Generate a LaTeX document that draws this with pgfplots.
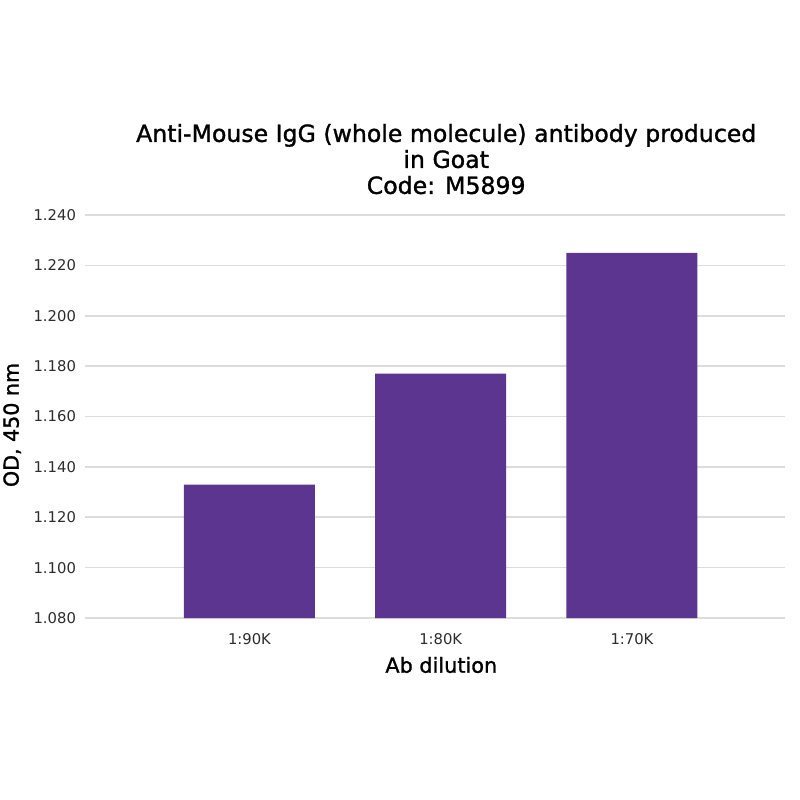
\documentclass[border=0pt]{standalone}
\usepackage{pgfplots}
\pgfplotsset{compat=1.18}
\usepackage{fontspec}
\setmainfont{DejaVu Sans}
\newfontfamily\semibold[FakeBold=1.3]{DejaVu Sans}
\definecolor{barpurple}{RGB}{91,53,143}
\definecolor{gridgray}{RGB}{220,220,222}
\definecolor{ticktext}{RGB}{45,45,45}
\begin{document}
\begin{tikzpicture}
\path[use as bounding box, fill=white] (0,0) rectangle (400pt,400pt);
\begin{axis}[
  at={(42.5pt,91pt)}, anchor=south west,
  scale only axis, width=350pt, height=201.5pt,
  xmin=-0.86, xmax=2.8, ymin=1.08, ymax=1.24,
  ytick={1.08,1.10,1.12,1.14,1.16,1.18,1.20,1.22,1.24},
  xtick={0,1,2}, xticklabels={1:90K,1:80K,1:70K},
  ymajorgrids, grid style={gridgray, line width=0.8pt},
  axis line style={draw=none},
  major tick length=0pt,
  /pgf/number format/assume math mode=true,
  yticklabel={\pgfmathprintnumber[fixed,fixed zerofill,precision=3]{\tick}},
  ticklabel style={font=\fontsize{7.4}{9}\selectfont, text=ticktext},
  yticklabel style={xshift=-1pt},
  xticklabel style={yshift=-4pt},
  ybar, bar width=65.5pt,
  title={Anti-Mouse IgG (whole molecule) antibody produced\\in Goat\\Code: M5899},
  title style={align=center, font=\semibold\fontsize{11.8}{13}\selectfont, at={(axis description cs:0.516,1.109)}, anchor=center},
  xlabel={Ab dilution},
  xlabel style={font=\semibold\fontsize{10.4}{12}\selectfont, at={(axis description cs:0.509,-0.1166)}, anchor=center},
  ylabel={OD, 450 nm},
  ylabel style={font=\semibold\fontsize{10.3}{12}\selectfont, at={(axis description cs:-0.104,0.479)}, anchor=center, rotate=0},
]
\addplot[draw=none, fill=barpurple] coordinates {(0,1.133) (1,1.177) (2,1.225)};
\end{axis}
\end{tikzpicture}
\end{document}
